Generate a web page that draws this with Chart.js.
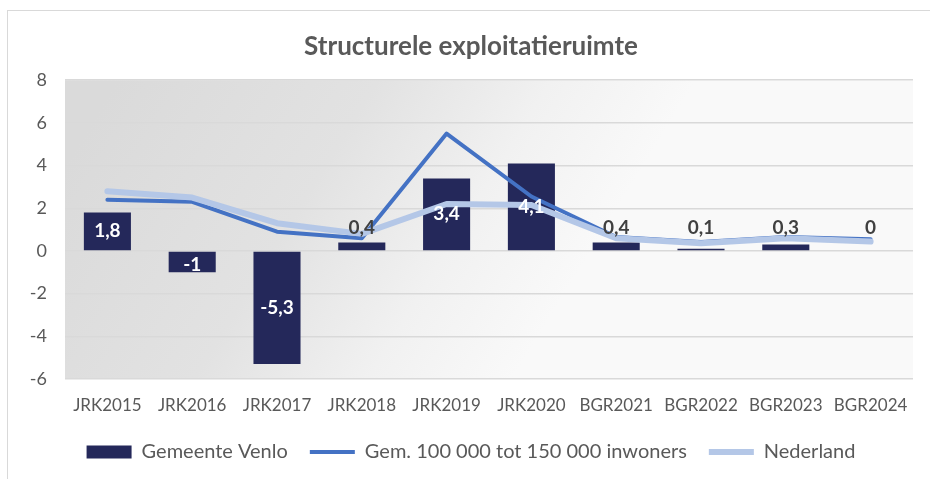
<!DOCTYPE html>
<html>
<head>
<meta charset="utf-8">
<script src="https://cdn.jsdelivr.net/npm/chart.js@4"></script>
<style>
  html, body { margin: 0; padding: 0; background: #fff; }
  #wrap { position: relative; width: 930px; height: 479px; }
  #frame { position: absolute; left: 7px; top: 10px; right: 0; bottom: 0;
           border-top: 1px solid #d9d9d9; border-left: 1px solid #d9d9d9; }
  canvas { position: absolute; left: 0; top: 0; }
</style>
</head>
<body>
<div id="wrap">
  <div id="frame"></div>
  <canvas id="c" width="930" height="479"></canvas>
</div>
<script>
  // gegevens uit de grafiek
  const categories = ["JRK2015", "JRK2016", "JRK2017", "JRK2018", "JRK2019",
                      "JRK2020", "BGR2021", "BGR2022", "BGR2023", "BGR2024"];
  const venlo = [1.8, -1, -5.3, 0.4, 3.4, 4.1, 0.4, 0.1, 0.3, 0];
  const gem100k = [2.4, 2.3, 0.9, 0.6, 5.5, 2.55, 0.65, 0.42, 0.65, 0.55];
  const nederland = [2.8, 2.5, 1.3, 0.8, 2.2, 2.15, 0.6, 0.36, 0.6, 0.44];
  const yMin = -6, yMax = 8, yStep = 2;

  const FONT = "Lato, 'Noto Sans', sans-serif";
  const TEXT = "#595959";

  // achtergrondverloop van het plotgebied
  const plotBackground = {
    id: "plotBackground",
    beforeDraw(chart) {
      const { ctx, chartArea: a } = chart;
      const g = ctx.createLinearGradient(a.left + 40, a.top + 20, a.left + 460, a.bottom - 20);
      g.addColorStop(0, "#dadada");
      g.addColorStop(0.45, "#e2e2e2");
      g.addColorStop(0.75, "#f1f1f1");
      g.addColorStop(1, "#f9f9f9");
      ctx.save();
      ctx.fillStyle = g;
      ctx.fillRect(a.left, a.top, a.right - a.left, a.bottom - a.top);
      ctx.restore();
    }
  };

  // waardelabels bij de staven
  const barLabels = {
    id: "barLabels",
    afterDatasetsDraw(chart) {
      const { ctx } = chart;
      const meta = chart.getDatasetMeta(0);
      const zeroY = chart.scales.y.getPixelForValue(0);
      ctx.save();
      ctx.font = "bold 19px " + FONT;
      ctx.textAlign = "center";
      ctx.textBaseline = "middle";
      meta.data.forEach((bar, i) => {
        const text = String(venlo[i]).replace(".", ",");
        const h = Math.abs(bar.base - bar.y);
        if (h > 15) {
          ctx.fillStyle = "#ffffff";
          ctx.fillText(text, bar.x, (bar.y + bar.base) / 2 + (venlo[i] < 0 && h < 30 ? 3 : 0));
        } else {
          ctx.fillStyle = "#404040";
          ctx.fillText(text, bar.x, zeroY - 23);
        }
      });
      ctx.restore();
    }
  };

  new Chart(document.getElementById("c"), {
    data: {
      labels: categories,
      datasets: [
        {
          type: "bar",
          label: "Gemeente Venlo",
          data: venlo,
          backgroundColor: "#24285a",
          categoryPercentage: 1,
          barPercentage: 0.555,
          order: 3
        },
        {
          type: "line",
          label: "Gem. 100 000 tot 150 000 inwoners",
          data: gem100k,
          borderColor: "#4472c4",
          backgroundColor: "#4472c4",
          borderWidth: 4,
          pointRadius: 0,
          tension: 0,
          borderJoinStyle: "round",
          borderCapStyle: "round",
          order: 2
        },
        {
          type: "line",
          label: "Nederland",
          data: nederland,
          borderColor: "#b4c7e7",
          backgroundColor: "#b4c7e7",
          borderWidth: 6,
          pointRadius: 0,
          tension: 0,
          borderJoinStyle: "round",
          borderCapStyle: "round",
          order: 1
        }
      ]
    },
    options: {
      responsive: false,
      animation: false,
      events: [],
      layout: { padding: { left: 29, right: 17, top: 0, bottom: 7 } },
      plugins: {
        title: {
          display: true,
          text: "Structurele exploitatieruimte",
          color: TEXT,
          font: { family: FONT, size: 26, weight: "bold" },
          padding: { top: 31, bottom: 18 }
        },
        legend: {
          position: "bottom",
          labels: {
            color: TEXT,
            font: { family: FONT, size: 20 },
            usePointStyle: true,
            pointStyleWidth: 45,
            boxHeight: 13,
            padding: 22,
            sort: (a, b) => a.datasetIndex - b.datasetIndex,
            generateLabels(chart) {
              const items = Chart.defaults.plugins.legend.labels.generateLabels(chart);
              items.forEach((it) => {
                const d = it.datasetIndex;
                it.pointStyle = d === 0 ? "rect" : "line";
                it.lineWidth = d === 0 ? 0 : (d === 1 ? 4 : 6);
              });
              return items;
            }
          }
        },
        tooltip: { enabled: false }
      },
      scales: {
        x: {
          grid: { display: false, drawTicks: false },
          border: { display: false },
          ticks: { color: TEXT, font: { family: FONT, size: 17 }, padding: 16, maxRotation: 0, autoSkip: false },
          afterFit(s) { s.height = 41; }
        },
        y: {
          min: yMin,
          max: yMax,
          grid: { color: "#d9d9d9", lineWidth: 1.5, drawTicks: false },
          border: { display: false },
          ticks: { stepSize: yStep, color: TEXT, font: { family: FONT, size: 18 }, padding: 18 },
          afterFit(s) { s.width = 36; }
        }
      }
    },
    plugins: [plotBackground, barLabels]
  });
</script>
</body>
</html>
